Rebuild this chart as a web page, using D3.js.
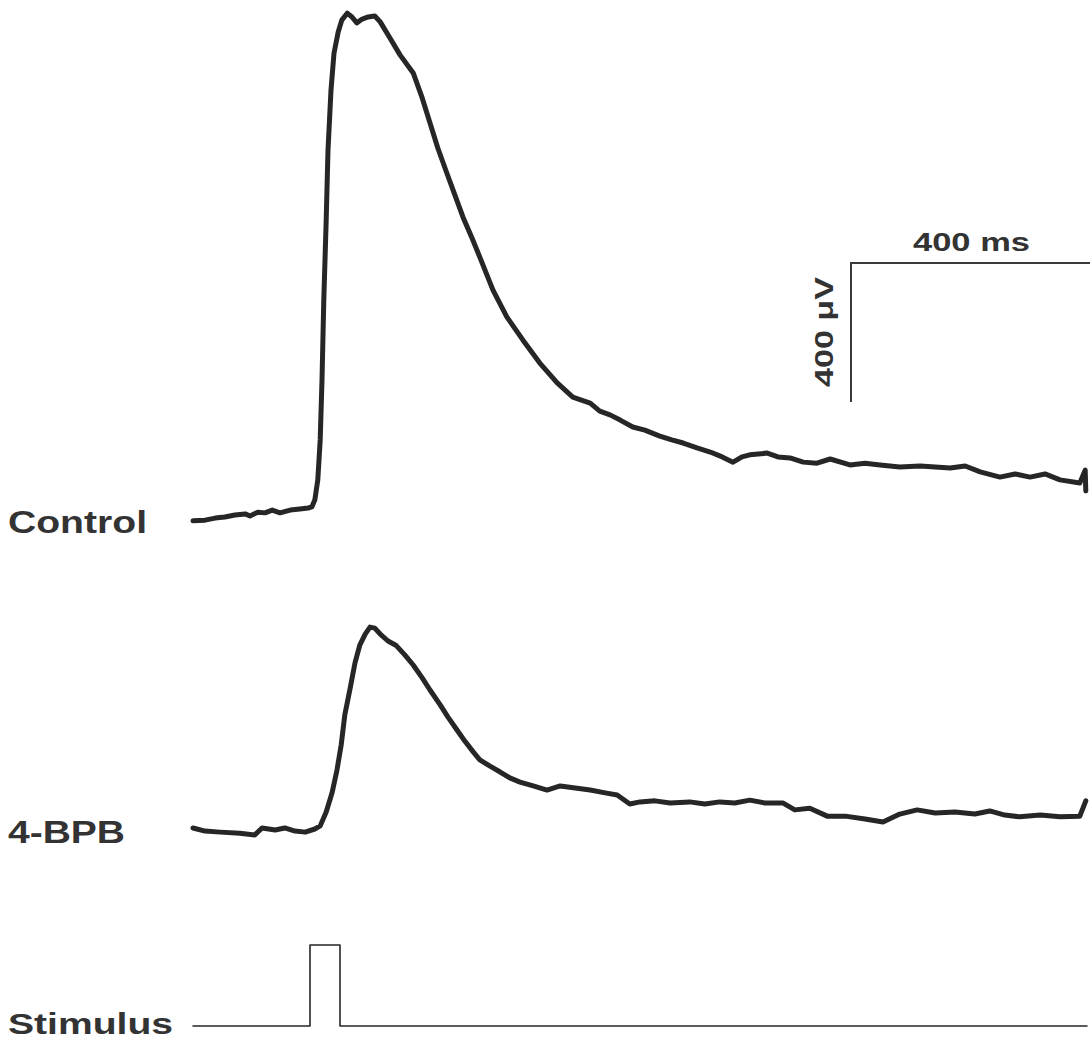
<!DOCTYPE html>
<html>
<head>
<meta charset="utf-8">
<script src="https://cdn.jsdelivr.net/npm/d3@7"></script>
<style>
  body { margin: 0; background: #fff; }
  text { font-family: "Liberation Sans", Arial, sans-serif; fill: #333; }
</style>
</head>
<body>
<script>
// time in ms, amplitude in microvolts (relative to pre-stimulus baseline)
var controlT = [0,20,37,53,70,87,95,108,120,132,145,162,178,192,198,203,208,212,215,218,222,225,230,235,242,248,257,265,273,282,292,303,312,328,345,367,382,395,408,423,437,450,465,478,500,523,550,578,607,633,662,678,695,712,733,753,778,798,817,840,862,882,900,915,928,957,975,995,1017,1040,1062,1095,1120,1145,1178,1212,1262,1287,1312,1345,1370,1395,1420,1445,1478,1487,1488];
var controlV = [-37,-35,-29,-26,-20,-17,-23,-12,-14,-6,-14,-6,-3,0,3,23,81,196,368,599,829,1030,1203,1309,1370,1404,1424,1413,1396,1407,1413,1416,1399,1353,1304,1252,1180,1108,1036,964,898,837,777,722,627,550,483,417,360,319,302,279,268,253,233,224,207,196,187,173,161,147,132,147,153,158,147,144,132,129,141,124,129,124,118,121,115,121,104,89,98,89,98,81,72,109,49];

var bpbT = [0,20,45,78,103,115,137,153,170,187,203,212,222,232,240,247,253,262,270,278,287,295,303,312,325,338,353,367,382,395,412,425,440,453,467,478,495,512,528,545,567,590,612,637,662,687,707,728,745,770,795,828,853,878,903,928,953,983,1003,1028,1057,1087,1120,1150,1178,1207,1237,1270,1303,1328,1353,1378,1412,1445,1478,1488];
var bpbV = [3,-6,-9,-12,-17,3,-3,3,-6,-9,0,9,49,106,170,242,328,406,478,529,561,581,578,561,541,529,501,472,435,400,357,322,285,253,222,199,181,164,147,135,124,112,124,118,112,104,98,72,78,81,75,78,72,78,75,83,75,75,55,60,37,37,29,20,43,55,46,49,43,52,40,35,40,35,37,81];

var stimT = [0,195,195,245,245,1490];
var stimV = [0,0,1,1,0,0];

var labels = ["Control", "4-BPB", "Stimulus"];
var scaleBarMs = 400, scaleBarUv = 400;

var width = 1090, height = 1042;

var svg = d3.select("body").append("svg")
    .attr("width", width)
    .attr("height", height);

var x = d3.scaleLinear().domain([0, 1490]).range([193, 193 + 1490 * 0.6]);

// each trace has its own vertical offset, same gain
var yControl = d3.scaleLinear().domain([0, 400]).range([508, 508 - 139]);
var yBpb = d3.scaleLinear().domain([0, 400]).range([829, 829 - 139]);
var yStim = d3.scaleLinear().domain([0, 1]).range([1026, 945]);

function trace(ts, vs, y, w) {
  var line = d3.line()
      .x(function(d){ return x(d[0]); })
      .y(function(d){ return y(d[1]); });
  svg.append("path")
      .datum(d3.zip(ts, vs))
      .attr("d", line)
      .attr("fill", "none")
      .attr("stroke", "#262626")
      .attr("stroke-width", w)
      .attr("stroke-linejoin", "round")
      .attr("stroke-linecap", "round");
}

trace(controlT, controlV, yControl, 5);
trace(bpbT, bpbV, yBpb, 5);
trace(stimT, stimV, yStim, 1.6);

// labels
var labelPos = [[533, 139, 31], [843, 117, 31], [1034, 165, 30]];
svg.selectAll("text.lab")
    .data(labels)
  .enter().append("text")
    .attr("class", "lab")
    .attr("x", 8)
    .attr("y", function(d, i){ return labelPos[i][0]; })
    .attr("textLength", function(d, i){ return labelPos[i][1]; })
    .attr("lengthAdjust", "spacingAndGlyphs")
    .style("font-size", function(d, i){ return labelPos[i][2] + "px"; })
    .style("font-weight", "bold")
    .text(function(d){ return d; });

// scale bar
var sbX = 851, sbY = 263;
var yBar = d3.scaleLinear().domain([0, scaleBarUv]).range([sbY + 139, sbY]);
svg.append("path")
    .attr("d", "M" + (sbX + x(scaleBarMs) - x(0)) + "," + yBar(scaleBarUv) +
               "H" + sbX + "V" + yBar(0))
    .attr("fill", "none")
    .attr("stroke", "#3a3a3a")
    .attr("stroke-width", 2);

svg.append("text")
    .attr("x", 913)
    .attr("y", 251)
    .attr("textLength", 117)
    .attr("lengthAdjust", "spacingAndGlyphs")
    .style("font-size", "25px")
    .style("font-weight", "bold")
    .text(scaleBarMs + " ms");

svg.append("text")
    .attr("transform", "translate(833,387) rotate(-90)")
    .attr("textLength", 110)
    .attr("lengthAdjust", "spacingAndGlyphs")
    .style("font-size", "25px")
    .style("font-weight", "bold")
    .text(scaleBarUv + " \u03bcV");
</script>
</body>
</html>
